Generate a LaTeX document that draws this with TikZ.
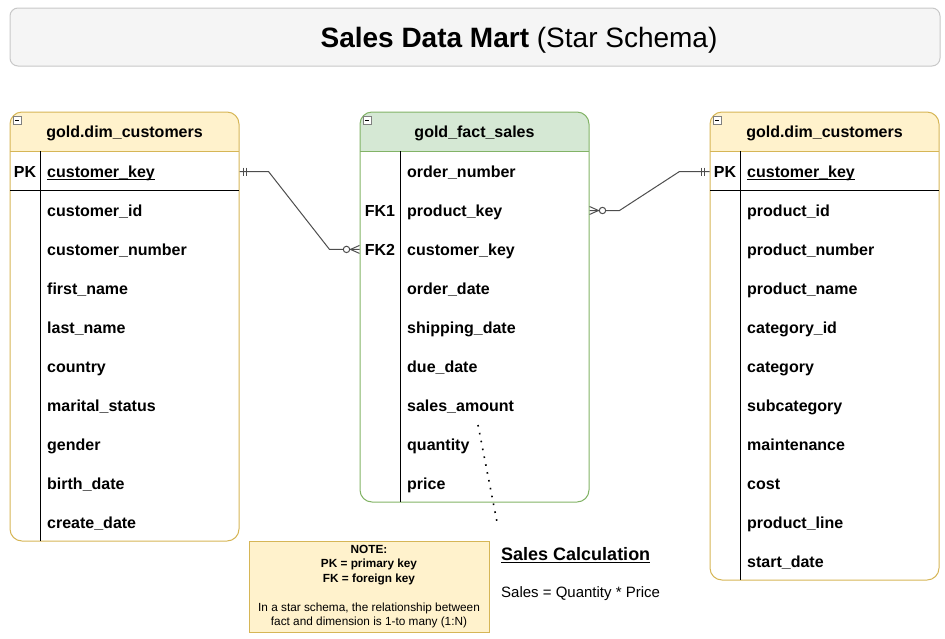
\documentclass[tikz,border=0pt]{standalone}
\usepackage{fontspec}
\setmainfont{Liberation Sans}
\usetikzlibrary{calc}

\definecolor{dimfill}{HTML}{FFF2CC}
\definecolor{dimborder}{HTML}{D6B656}
\definecolor{factfill}{HTML}{D5E8D4}
\definecolor{factborder}{HTML}{82B366}
\definecolor{titlefill}{HTML}{F5F5F5}
\definecolor{titleborder}{HTML}{C8C8C8}
\definecolor{linkgray}{HTML}{4D4D4D}

\tikzstyle{field}=[anchor=base west,inner sep=0pt,font=\fontsize{16}{19}\selectfont\bfseries]
\tikzstyle{keyfld}=[anchor=base,inner sep=0pt,font=\fontsize{16}{19}\selectfont\bfseries]
\tikzstyle{hdr}=[anchor=base,inner sep=0pt,font=\fontsize{16}{19}\selectfont\bfseries]
\tikzstyle{dimtable}=[draw=dimborder,line width=1pt,rounded corners=12pt,minimum width=229pt,inner sep=0pt]
\tikzstyle{facttable}=[draw=factborder,line width=1pt,rounded corners=12pt,minimum width=229pt,inner sep=0pt]
\tikzstyle{sepline}=[line width=1pt]
\tikzstyle{minusbox}=[draw=gray,fill=white,line width=0.8pt]
\tikzstyle{link}=[draw=linkgray,line width=1pt]
\tikzstyle{dotline}=[line width=1.6pt,dash pattern=on 1.6pt off 6.4pt]

\begin{document}
\begin{tikzpicture}[x=1pt,y=-1pt]
    \useasboundingbox (0,0) rectangle (945,638);

    % title
    \node[draw=titleborder,fill=titlefill,line width=1pt,rounded corners=8pt,
          minimum width=930pt,minimum height=58pt] (title) at (475,37) {};
    \node[anchor=base,inner sep=0pt,font=\fontsize{28}{33}\selectfont] (titletext) at (519,47)
        {\textbf{Sales Data Mart} (Star Schema)};

    % left dimension
    \begin{scope}
        \clip[rounded corners=12pt] (10,112) rectangle (239,541);
        \fill[dimfill] (10,112) rectangle (239,151);
    \end{scope}
    \node[dimtable,minimum height=429pt] (lt) at (124.5,326.5) {};
    \draw[dimborder,line width=1pt] (10,151) -- (239,151);
    \draw[sepline] (10,190) -- (239,190);
    \draw[sepline] (40,151) -- (40,541);
    \draw[minusbox] (13,116) rectangle (21,124);
    \draw (15,120) -- (19,120);
    \node[hdr] (lh) at (124.5,137) {gold.dim\_customers};
    \node[keyfld] (lpk) at (25,177) {PK};
    \node[field] (lkey) at (47,177) {customer\_key};
    \draw[line width=1pt] ([yshift=-2pt]lkey.base west) -- ([yshift=-2pt]lkey.base east);
    \foreach \txt [count=\i] in {customer\_id,customer\_number,first\_name,last\_name,country,
        marital\_status,gender,birth\_date,create\_date}
        \node[field] (l\i) at (47,177+39*\i) {\txt};

    % fact table
    \begin{scope}
        \clip[rounded corners=12pt] (360,112) rectangle (589,502);
        \fill[factfill] (360,112) rectangle (589,151);
    \end{scope}
    \node[facttable,minimum height=390pt] (ft) at (474.5,307) {};
    \draw[factborder,line width=1pt] (360,151) -- (589,151);
    \draw[sepline] (400,151) -- (400,502);
    \draw[minusbox] (363,116) rectangle (371,124);
    \draw (365,120) -- (369,120);
    \node[hdr] (fh) at (474.5,137) {gold\_fact\_sales};
    \node[keyfld] (fk1) at (380,216) {FK1};
    \node[keyfld] (fk2) at (380,255) {FK2};
    \foreach \txt [count=\i] in {order\_number,product\_key,customer\_key,order\_date,
        shipping\_date,due\_date,sales\_amount,quantity,price}
        \node[field] (f\i) at (407,138+39*\i) {\txt};

    % right dimension
    \begin{scope}
        \clip[rounded corners=12pt] (710,112) rectangle (939,580);
        \fill[dimfill] (710,112) rectangle (939,151);
    \end{scope}
    \node[dimtable,minimum height=468pt] (rt) at (824.5,346) {};
    \draw[dimborder,line width=1pt] (710,151) -- (939,151);
    \draw[sepline] (710,190) -- (939,190);
    \draw[sepline] (740,151) -- (740,580);
    \draw[minusbox] (713,116) rectangle (721,124);
    \draw (715,120) -- (719,120);
    \node[hdr] (rh) at (824.5,137) {gold.dim\_customers};
    \node[keyfld] (rpk) at (725,177) {PK};
    \node[field] (rkey) at (747,177) {customer\_key};
    \draw[line width=1pt] ([yshift=-2pt]rkey.base west) -- ([yshift=-2pt]rkey.base east);
    \foreach \txt [count=\i] in {product\_id,product\_number,product\_name,category\_id,category,
        subcategory,maintenance,cost,product\_line,start\_date}
        \node[field] (r\i) at (747,177+39*\i) {\txt};

    % relationships
    \draw[link] (lpk -| lt.east) -- ++(29,0) -- ($(fk2 -| ft.west)+(-30,0)$) -- (fk2 -| ft.west);
    \draw[link] ($(lpk -| lt.east)+(4,-4)$) -- ++(0,8);
    \draw[link] ($(lpk -| lt.east)+(7,-4)$) -- ++(0,8);
    \draw[link] ($(fk2 -| ft.west)+(-9,0)$) -- ++(9,-4);
    \draw[link] ($(fk2 -| ft.west)+(-9,0)$) -- ++(9,4);
    \draw[link,fill=white] ($(fk2 -| ft.west)+(-13,0)$) circle (3.2pt);

    \draw[link] (fk1 -| ft.east) -- ++(30,0) -- ($(rpk -| rt.west)+(-30,0)$) -- (rpk -| rt.west);
    \draw[link] ($(rpk -| rt.west)+(-8,-4)$) -- ++(0,8);
    \draw[link] ($(rpk -| rt.west)+(-5,-4)$) -- ++(0,8);
    \draw[link] ($(fk1 -| ft.east)+(9,0)$) -- ++(-9,-4);
    \draw[link] ($(fk1 -| ft.east)+(9,0)$) -- ++(-9,4);
    \draw[link,fill=white] ($(fk1 -| ft.east)+(13,0)$) circle (3.2pt);

    % note and calculation
    \node[draw=dimborder,fill=dimfill,line width=1pt,minimum width=240pt,minimum height=91pt,
          align=center,inner sep=0pt,font=\fontsize{11.8}{14.5}\selectfont] (note) at (369,586.5)
        {\textbf{NOTE:}\\ \textbf{PK = primary key}\\ \textbf{FK = foreign key}\\[14.5pt]
         In a star schema, the relationship between\\ fact and dimension is 1-to many (1:N)};
    \node[anchor=base west,inner sep=0pt,font=\fontsize{18}{22}\selectfont\bfseries] (scalc) at (501,560)
        {Sales Calculation};
    \draw[line width=1.5pt] ([yshift=-2.5pt]scalc.base west) -- ([yshift=-2.5pt]scalc.base east);
    \node[anchor=base west,inner sep=0pt,font=\fontsize{15}{18}\selectfont] (sformula) at (501,597)
        {Sales = Quantity * Price};
    \draw[dotline] ($(f7.base west)+(71,14)$) -- ($(scalc.base west)+(-3,-33)$);
\end{tikzpicture}
\end{document}
